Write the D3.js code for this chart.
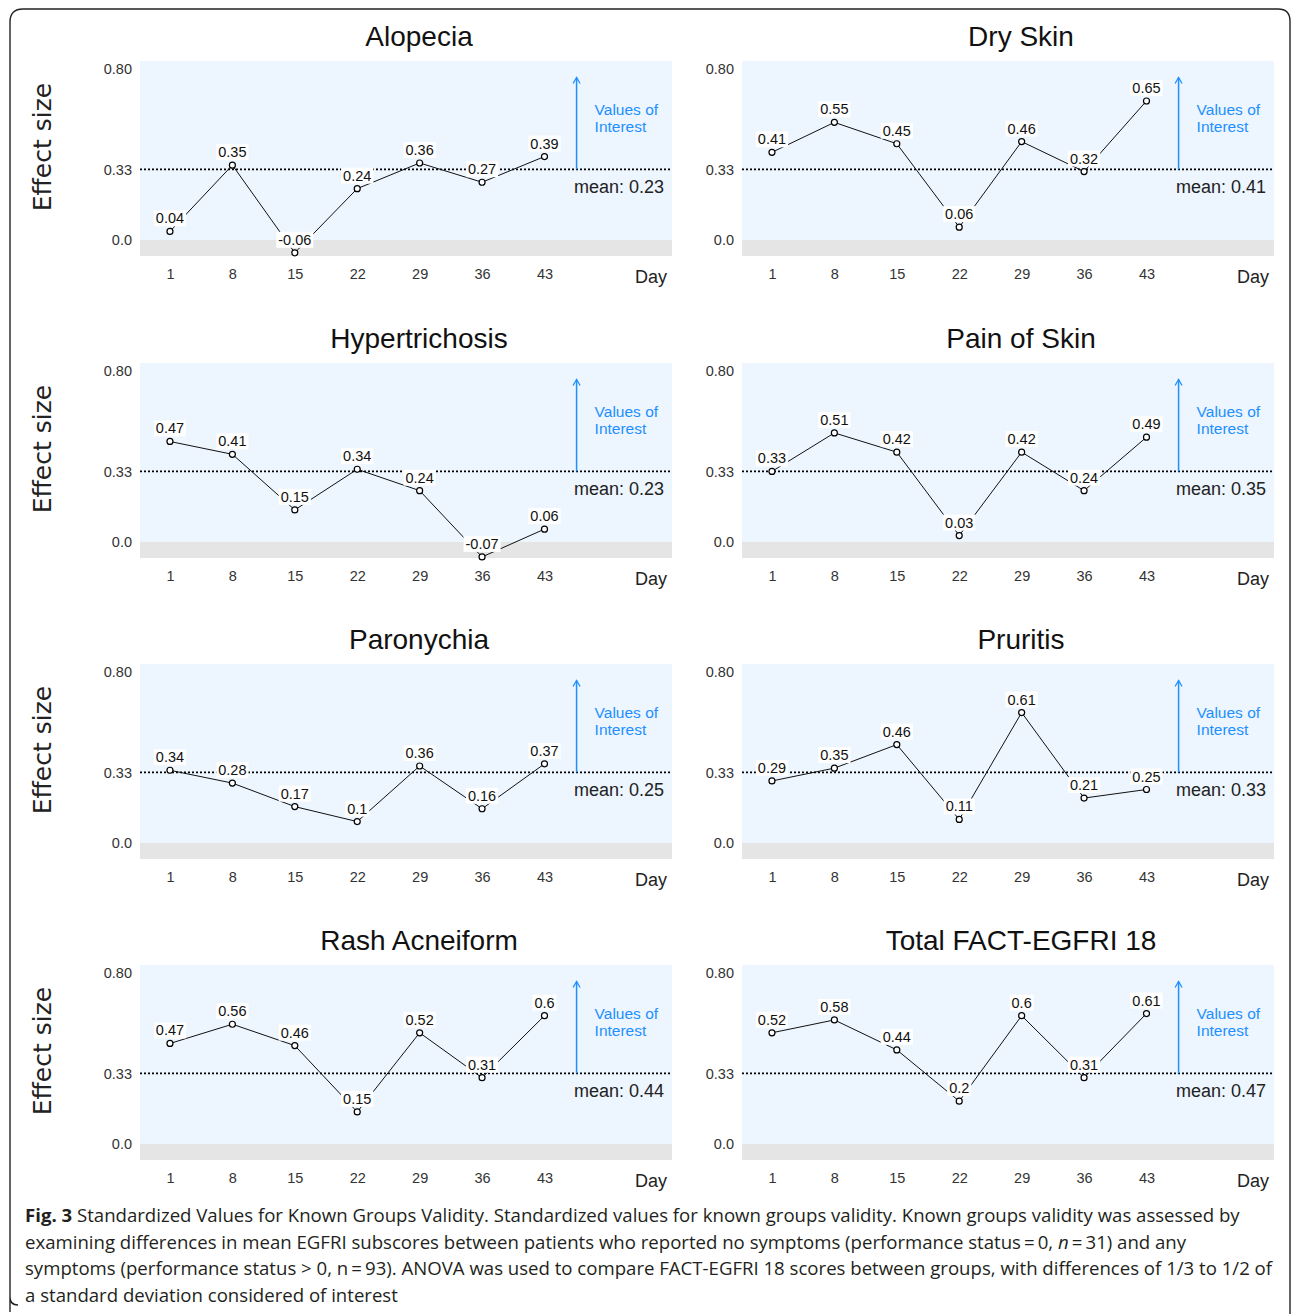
<!DOCTYPE html>
<html>
<head>
<meta charset="utf-8">
<script src="https://cdn.jsdelivr.net/npm/d3@7"></script>
<style>
  body { margin: 0; background: #fff; }
  svg text { font-family: "Liberation Sans", Arial, sans-serif; }
  svg text.cap { font-family: "Open Sans", sans-serif; font-size: 18.6px; }
</style>
</head>
<body>
<div id="chart"></div>
<script>
// data
var days = [1, 8, 15, 22, 29, 36, 43];
var titles = ["Alopecia", "Dry Skin", "Hypertrichosis", "Pain of Skin",
              "Paronychia", "Pruritis", "Rash Acneiform", "Total FACT-EGFRI 18"];
var alopecia      = [0.04, 0.35, -0.06, 0.24, 0.36, 0.27, 0.39];
var drySkin       = [0.41, 0.55, 0.45, 0.06, 0.46, 0.32, 0.65];
var hypertrichosis = [0.47, 0.41, 0.15, 0.34, 0.24, -0.07, 0.06];
var painOfSkin    = [0.33, 0.51, 0.42, 0.03, 0.42, 0.24, 0.49];
var paronychia    = [0.34, 0.28, 0.17, 0.1, 0.36, 0.16, 0.37];
var pruritis      = [0.29, 0.35, 0.46, 0.11, 0.61, 0.21, 0.25];
var rashAcneiform = [0.47, 0.56, 0.46, 0.15, 0.52, 0.31, 0.6];
var totalFact     = [0.52, 0.58, 0.44, 0.2, 0.6, 0.31, 0.61];
var means = ["0.23", "0.41", "0.23", "0.35", "0.25", "0.33", "0.44", "0.47"];
var yTicks = [0, 0.33, 0.8];
var yTickLabels = ["0.0", "0.33", "0.80"];
var threshold = 0.33;
var arrowDay = 46.6, arrowTop = 0.76;

var series = [alopecia, drySkin, hypertrichosis, painOfSkin,
              paronychia, pruritis, rashAcneiform, totalFact];

var captionLines = [
  " Standardized Values for Known Groups Validity. Standardized values for known groups validity. Known groups validity was assessed by",
  "examining differences in mean EGFRI subscores between patients who reported no symptoms (performance status\u2009=\u20090, ",
  "symptoms (performance status > 0, n\u2009=\u200993). ANOVA was used to compare FACT-EGFRI 18 scores between groups, with differences of 1/3 to 1/2 of",
  "a standard deviation considered of interest"
];

// layout
var W = 1292, H = 1314;
var colLeft = [140, 742];
var rowTop = [61, 363, 664, 965];
var plotW = 532, plotH = 195;

var svg = d3.select("#chart").append("svg")
    .attr("width", W)
    .attr("height", H);

// frame around the figure
svg.append("path")
    .attr("d", "M10,1312 L10,1297 Q10,1305 18,1305 M10,1305 L10,22 Q10,9 23,9 L1278,9 Q1290,9 1290,21 L1290,1314")
    .attr("fill", "none")
    .attr("stroke", "#222")
    .attr("stroke-width", 1.4);

var x = d3.scaleLinear().domain([-2.36, 57.3]).range([0, plotW]);
var y = d3.scaleLinear().domain([-0.075, 0.837]).range([plotH, 0]);

series.forEach(function(vals, i) {
  var col = i % 2, row = Math.floor(i / 2);
  var g = svg.append("g")
      .attr("transform", "translate(" + colLeft[col] + "," + rowTop[row] + ")");
  var pts = days.map(function(d, j) { return {day: d, v: vals[j]}; });

  // backgrounds
  g.append("rect")
      .attr("x", 0).attr("y", 0)
      .attr("width", plotW).attr("height", y(0))
      .attr("fill", "#EDF5FE");
  g.append("rect")
      .attr("x", 0).attr("y", y(0))
      .attr("width", plotW).attr("height", plotH - y(0))
      .attr("fill", "#E5E5E5");

  // threshold line
  g.append("line")
      .attr("x1", 0).attr("x2", plotW)
      .attr("y1", y(threshold)).attr("y2", y(threshold))
      .attr("stroke", "#000")
      .attr("stroke-width", 1.6)
      .attr("stroke-dasharray", "2,2");

  // arrow
  var ax = x(arrowDay);
  g.append("line")
      .attr("x1", ax).attr("x2", ax)
      .attr("y1", y(threshold)).attr("y2", y(arrowTop))
      .attr("stroke", "#1E90FF")
      .attr("stroke-width", 1.5);
  g.append("path")
      .attr("d", "M" + (ax - 3.5) + "," + (y(arrowTop) + 6) + " L" + ax + "," + y(arrowTop) + " L" + (ax + 3.5) + "," + (y(arrowTop) + 6))
      .attr("fill", "none")
      .attr("stroke", "#1E90FF")
      .attr("stroke-width", 1.3);
  g.append("text")
      .attr("x", ax + 18).attr("y", y(0.61))
      .attr("dominant-baseline", "central")
      .attr("fill", "#1E90FF")
      .style("font-size", "15.5px")
      .text("Values of");
  g.append("text")
      .attr("x", ax + 18).attr("y", y(0.53))
      .attr("dominant-baseline", "central")
      .attr("fill", "#1E90FF")
      .style("font-size", "15.5px")
      .text("Interest");
  g.append("text")
      .attr("x", plotW - 8).attr("y", y(0.25))
      .attr("dominant-baseline", "central")
      .attr("text-anchor", "end")
      .attr("fill", "#222")
      .style("font-size", "18px")
      .text("mean: " + means[i]);

  // the line
  var line = d3.line()
      .x(function(d) { return x(d.day); })
      .y(function(d) { return y(d.v); });
  g.append("path")
      .datum(pts)
      .attr("d", line)
      .attr("fill", "none")
      .attr("stroke", "#111")
      .attr("stroke-width", 1);

  g.selectAll(".pt")
      .data(pts)
    .enter().append("circle")
      .attr("class", "pt")
      .attr("cx", function(d) { return x(d.day); })
      .attr("cy", function(d) { return y(d.v); })
      .attr("r", 3)
      .attr("fill", "#fff")
      .attr("stroke", "#000")
      .attr("stroke-width", 1.2);

  // value labels with white boxes
  var lab = g.selectAll(".lab")
      .data(pts)
    .enter().append("g")
      .attr("class", "lab");
  var txt = lab.append("text")
      .attr("x", function(d) { return x(d.day); })
      .attr("y", function(d) { return y(d.v) - 13; })
      .attr("text-anchor", "middle")
      .attr("dominant-baseline", "central")
      .attr("fill", "#111")
      .style("font-size", "14.5px")
      .text(function(d) { return String(d.v); });
  txt.each(function() {
    var b = this.getBBox();
    d3.select(this.parentNode).insert("rect", "text")
        .attr("x", b.x - 2).attr("y", b.y)
        .attr("width", b.width + 4).attr("height", b.height)
        .attr("fill", "#fff");
  });

  // axes
  var yAxis = d3.axisLeft(y)
      .tickValues(yTicks)
      .tickSize(0)
      .tickPadding(8)
      .tickFormat(function(d, k) { return yTickLabels[k]; });
  g.append("g").call(yAxis)
      .call(function(a) { a.select(".domain").remove(); })
      .selectAll("text")
      .attr("fill", "#333")
      .style("font-size", "14.5px")
      .style("font-family", "'Liberation Sans', Arial, sans-serif");

  var xAxis = d3.axisBottom(x)
      .tickValues(days)
      .tickSize(0)
      .tickPadding(13);
  g.append("g")
      .attr("transform", "translate(0," + plotH + ")")
      .call(xAxis)
      .call(function(a) { a.select(".domain").remove(); })
      .selectAll("text")
      .attr("fill", "#333")
      .style("font-size", "14.5px")
      .style("font-family", "'Liberation Sans', Arial, sans-serif");

  g.append("text")
      .attr("x", plotW - 21).attr("y", plotH + 21)
      .attr("text-anchor", "middle")
      .attr("dominant-baseline", "central")
      .attr("fill", "#222")
      .style("font-size", "18px")
      .text("Day");

  // title
  g.append("text")
      .attr("x", plotW / 2 + 13).attr("y", -25)
      .attr("text-anchor", "middle")
      .attr("dominant-baseline", "central")
      .attr("fill", "#111")
      .style("font-size", "28px")
      .text(titles[i]);

  if (col === 0) {
    svg.append("text")
        .attr("transform", "translate(42," + (rowTop[row] + 86) + ") rotate(-90)")
        .attr("text-anchor", "middle")
        .attr("dominant-baseline", "central")
        .attr("fill", "#222")
        .style("font-family", "'DejaVu Sans', sans-serif")
        .style("font-size", "25px")
        .text("Effect size");
  }
});

// caption
var cap = svg.append("g").attr("fill", "#231f20");
var capY = [1222, 1249, 1275, 1302];
var t0 = cap.append("text").attr("class", "cap").attr("x", 25).attr("y", capY[0]);
t0.append("tspan").style("font-weight", "bold").text("Fig. 3");
t0.append("tspan").text(captionLines[0]);
var t1 = cap.append("text").attr("class", "cap").attr("x", 25).attr("y", capY[1]);
t1.append("tspan").text(captionLines[1]);
t1.append("tspan").style("font-style", "italic").text("n");
t1.append("tspan").text("\u2009=\u200931) and any");
cap.append("text").attr("class", "cap").attr("x", 25).attr("y", capY[2]).text(captionLines[2]);
cap.append("text").attr("class", "cap").attr("x", 25).attr("y", capY[3]).text(captionLines[3]);
</script>
</body>
</html>
